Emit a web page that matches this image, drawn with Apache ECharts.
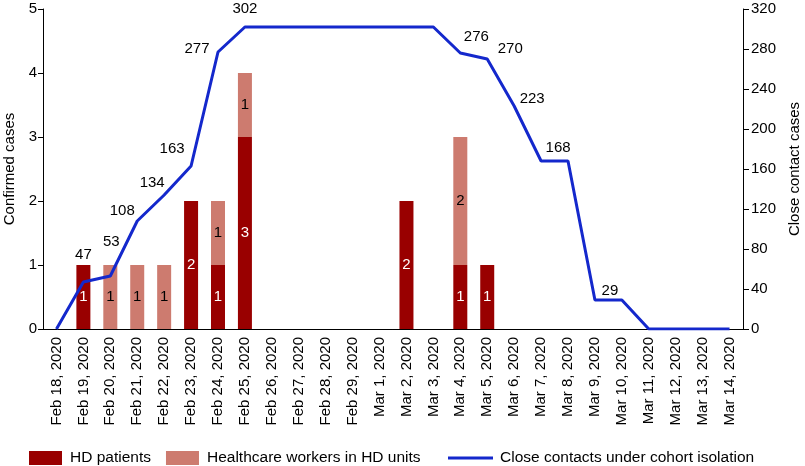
<!DOCTYPE html>
<html>
<head>
<meta charset="utf-8">
<script src="https://cdn.jsdelivr.net/npm/echarts@6/dist/echarts.min.js"></script>
<style>
  html, body { margin: 0; padding: 0; background: #fff; }
  #chart { width: 805px; height: 466px; }
</style>
</head>
<body>
<div id="chart"></div>
<script>
  var dates = ['Feb 18, 2020', 'Feb 19, 2020', 'Feb 20, 2020', 'Feb 21, 2020', 'Feb 22, 2020',
    'Feb 23, 2020', 'Feb 24, 2020', 'Feb 25, 2020', 'Feb 26, 2020', 'Feb 27, 2020',
    'Feb 28, 2020', 'Feb 29, 2020', 'Mar 1, 2020', 'Mar 2, 2020', 'Mar 3, 2020',
    'Mar 4, 2020', 'Mar 5, 2020', 'Mar 6, 2020', 'Mar 7, 2020', 'Mar 8, 2020',
    'Mar 9, 2020', 'Mar 10, 2020', 'Mar 11, 2020', 'Mar 12, 2020', 'Mar 13, 2020', 'Mar 14, 2020']
  var hdPatients = [0, 1, 0, 0, 0, 2, 1, 3, 0, 0, 0, 0, 0, 2, 0, 1, 1, 0, 0, 0, 0, 0, 0, 0, 0, 0]
  var hcWorkers = [0, 0, 1, 1, 1, 0, 1, 1, 0, 0, 0, 0, 0, 0, 0, 2, 0, 0, 0, 0, 0, 0, 0, 0, 0, 0]
  var closeContacts = [0, 47, 53, 108, 134, 163, 277, 302, 302, 302, 302, 302, 302, 302, 302,
    276, 270, 223, 168, 168, 29, 29, 0, 0, 0, 0]

  // where each line label sits, relative to its point (index -> [dx, dy])
  var lineLabelOffset = {
    1: [0, -27], 2: [1, -34], 3: [-15, -10], 4: [-12, -12], 5: [-19, -17],
    6: [-21, -3], 7: [0, -18], 15: [16, -16], 16: [23, -10], 17: [18, -7],
    18: [17, -13], 20: [15, -9]
  }

  var font = 'Liberation Sans, Arial, Helvetica, sans-serif'
  var blue = '#1428cc'

  function barData(arr) {
    return arr.map(function (v) { return v > 0 ? v : null })
  }

  var lineData = closeContacts.map(function (v, i) {
    var off = lineLabelOffset[i]
    if (!off) return v
    return {
      value: v,
      label: { show: true, position: 'inside', offset: off }
    }
  })

  var chart = echarts.init(document.getElementById('chart'))
  chart.setOption({
    animation: false,
    textStyle: { fontFamily: font, color: '#000' },
    grid: { left: 43, right: 62, top: 9, bottom: 137, containLabel: false, outerBoundsMode: 'none' },
    legend: [{
      left: 29,
      top: 450,
      padding: 0,
      itemWidth: 33,
      itemHeight: 14,
      itemGap: 15,
      icon: 'rect',
      data: ['HD patients', 'Healthcare workers in HD units'],
      textStyle: { fontSize: 15.5, color: '#000', fontFamily: font, padding: [0, 0, 0, 3] }
    }, {
      left: 448,
      top: 450,
      padding: 0,
      itemWidth: 45,
      itemHeight: 14,
      data: [{ name: 'Close contacts under cohort isolation', icon: 'path://M0,0h45v3h-45z' }],
      textStyle: { fontSize: 15.5, color: '#000', fontFamily: font, padding: [0, 0, 0, 2] }
    }],
    xAxis: {
      type: 'category',
      data: dates,
      boundaryGap: true,
      axisLine: { lineStyle: { color: '#000', width: 1 } },
      axisTick: { show: false },
      axisLabel: { rotate: 90, fontSize: 15, color: '#000', fontFamily: font, margin: 8, interval: 0 }
    },
    yAxis: [{
      type: 'value',
      min: 0,
      max: 5,
      interval: 1,
      name: 'Confirmed cases',
      nameLocation: 'middle',
      nameRotate: 90,
      nameGap: 24,
      nameTextStyle: { fontSize: 15, color: '#000', fontFamily: font },
      axisLine: { show: true, lineStyle: { color: '#000' } },
      axisTick: { show: true, length: 5, lineStyle: { color: '#000' } },
      axisLabel: { fontSize: 15, color: '#000', fontFamily: font, margin: 6 },
      splitLine: { show: false }
    }, {
      type: 'value',
      min: 0,
      max: 320,
      interval: 40,
      name: 'Close contact cases',
      nameLocation: 'middle',
      nameRotate: 90,
      nameGap: 42,
      nameTextStyle: { fontSize: 15, color: '#000', fontFamily: font },
      axisLine: { show: true, lineStyle: { color: '#000' } },
      axisTick: { show: true, length: 6, lineStyle: { color: '#000' } },
      axisLabel: { fontSize: 15, color: '#000', fontFamily: font, margin: 8 },
      splitLine: { show: false }
    }],
    series: [{
      name: 'HD patients',
      type: 'bar',
      stack: 'cases',
      barWidth: 14,
      itemStyle: { color: '#990000' },
      label: { show: true, position: 'inside', color: '#fff', fontSize: 15, fontFamily: font },
      data: barData(hdPatients)
    }, {
      name: 'Healthcare workers in HD units',
      type: 'bar',
      stack: 'cases',
      barWidth: 14,
      itemStyle: { color: '#cd7b6f' },
      label: { show: true, position: 'inside', color: '#000', fontSize: 15, fontFamily: font },
      data: barData(hcWorkers)
    }, {
      name: 'Close contacts under cohort isolation',
      type: 'line',
      yAxisIndex: 1,
      symbol: 'circle',
      symbolSize: 0.1,
      showSymbol: true,
      lineStyle: { color: blue, width: 3 },
      itemStyle: { color: blue },
      label: { show: false, color: '#000', fontSize: 15, fontFamily: font },
      data: lineData,
      z: 3
    }]
  })
</script>
</body>
</html>
